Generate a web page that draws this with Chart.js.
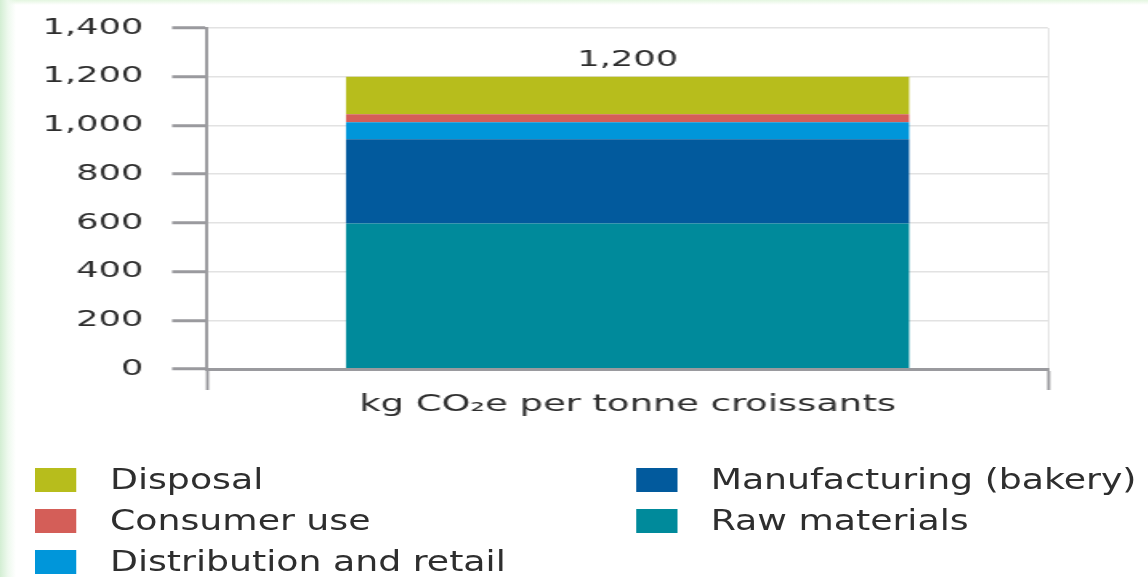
<!DOCTYPE html>
<html>
<head>
<meta charset="utf-8">
<script src="https://cdn.jsdelivr.net/npm/chart.js@4/dist/chart.umd.min.js"></script>
<style>
  html, body { margin: 0; padding: 0; width: 1148px; height: 577px; overflow: hidden; background: #ffffff; }
  #bg { position: absolute; left: 0; top: 0; width: 1148px; height: 577px;
        background: linear-gradient(to right, #d3eed3 0px, #eef9ee 8px, rgba(255,255,255,0) 16px),
                    linear-gradient(to bottom, #e4f6e0 0px, rgba(255,255,255,0) 5px), #ffffff; }
  #wrap { position: absolute; left: 0; top: 0; width: 717.5px; height: 577px;
          transform: scaleX(1.6); transform-origin: 0 0; }
  #legendWrap { position: absolute; left: 0; top: 0; width: 918.4px; height: 577px;
          transform: scaleX(1.25); transform-origin: 0 0; pointer-events: none; }
  #legend { position: absolute; left: 0; top: 0; width: 918px; height: 577px;
            font-family: "DejaVu Sans", sans-serif; font-size: 29px; color: #2e2e2e; }
  .item { position: absolute; height: 30px; line-height: 30px; white-space: nowrap; }
  .sw { position: absolute; left: 0; top: 3px; width: 33px; height: 24px; }
  .tx { position: absolute; left: 60px; top: -1px; }
</style>
</head>
<body>
<div id="bg"></div>
<div id="wrap">
  <canvas id="c"></canvas>
</div>
<div id="legendWrap"><div id="legend"></div></div>
<script>
// ---- data ----
const categories = ['kg CO\u2082e per tonne croissants'];
const rawMaterials = [597];
const manufacturing = [346];
const distribution = [70];
const consumerUse = [33];
const disposal = [154];
const totals = [1200];
const yTicks = [0, 200, 400, 600, 800, 1000, 1200, 1400];

const seriesNames = ['Raw materials', 'Manufacturing (bakery)', 'Distribution and retail', 'Consumer use', 'Disposal'];
const seriesColors = ['#008a9b', '#025a9d', '#0096da', '#d45e58', '#b7bd1c'];
const seriesData = [rawMaterials, manufacturing, distribution, consumerUse, disposal];
// legend layout order (column-wise)
const legendCol1 = ['Disposal', 'Consumer use', 'Distribution and retail'];
const legendCol2 = ['Manufacturing (bakery)', 'Raw materials'];

const AXIS = '#9a9a9e';
const GRID = '#e2e2e2';
const TXT = '#2e2e2e';
const FONT = '"DejaVu Sans", sans-serif';

const totalLabel = {
  id: 'totalLabel',
  afterDatasetsDraw(chart) {
    const ctx = chart.ctx;
    const x = chart.scales.x;
    const y = chart.scales.y;
    ctx.save();
    ctx.font = '22px ' + FONT;
    ctx.fillStyle = TXT;
    ctx.textAlign = 'center';
    ctx.textBaseline = 'middle';
    totals.forEach((t, i) => {
      ctx.fillText(t.toLocaleString('en-US'), x.getPixelForValue(i), y.getPixelForValue(t) - 16);
    });
    ctx.restore();
  }
};

new Chart(document.getElementById('c'), {
  type: 'bar',
  data: {
    labels: categories,
    datasets: seriesNames.map((n, i) => ({
      label: n,
      data: seriesData[i],
      backgroundColor: seriesColors[i],
      borderWidth: 0,
      barPercentage: 0.67,
      categoryPercentage: 1.0
    }))
  },
  options: {
    responsive: true,
    maintainAspectRatio: false,
    animation: false,
    layout: { padding: { left: 0, right: 63.5, top: 28, bottom: 148 } },
    plugins: { legend: { display: false }, tooltip: { enabled: false } },
    scales: {
      x: {
        stacked: true,
        offset: true,
        grid: { display: true, offset: true, color: GRID, lineWidth: 0.9, drawOnChartArea: true,
                drawTicks: true, tickLength: 21, tickColor: AXIS, tickWidth: 1.9 },
        border: { display: true, color: AXIS, width: 3, z: 1 },
        ticks: { color: TXT, padding: 1, font: { family: FONT, size: 23 } },
        afterFit(s) { s.height = 60; s.paddingLeft = 0; s.paddingRight = 0; }
      },
      y: {
        stacked: true,
        min: 0, max: 1400,
        afterBuildTicks(s) { s.ticks = yTicks.map(v => ({ value: v })); },
        grid: { color: GRID, lineWidth: 1.5, drawTicks: true, tickLength: 22, tickColor: AXIS, tickWidth: 3 },
        border: { display: true, color: AXIS, width: 1.9 },
        ticks: {
          color: TXT, padding: 18,
          font: { family: FONT, size: 22 },
          callback: v => Number(v).toLocaleString('en-US')
        },
        afterFit(s) { s.width = 129.4; s.paddingTop = 0; s.paddingBottom = 0; }
      }
    }
  },
  plugins: [totalLabel]
});

// ---- legend (HTML) ----
const legend = document.getElementById('legend');
function addItem(name, left, top) {
  const idx = seriesNames.indexOf(name);
  const d = document.createElement('div');
  d.className = 'item';
  d.style.left = left + 'px';
  d.style.top = top + 'px';
  d.innerHTML = '<span class="sw" style="background:' + seriesColors[idx] + '"></span><span class="tx"></span>';
  d.querySelector('.tx').textContent = name;
  legend.appendChild(d);
}
const rowTops = [465, 506, 547];
legendCol1.forEach((n, i) => addItem(n, 28, rowTops[i]));
legendCol2.forEach((n, i) => addItem(n, 508.5, rowTops[i]));
</script>
</body>
</html>
